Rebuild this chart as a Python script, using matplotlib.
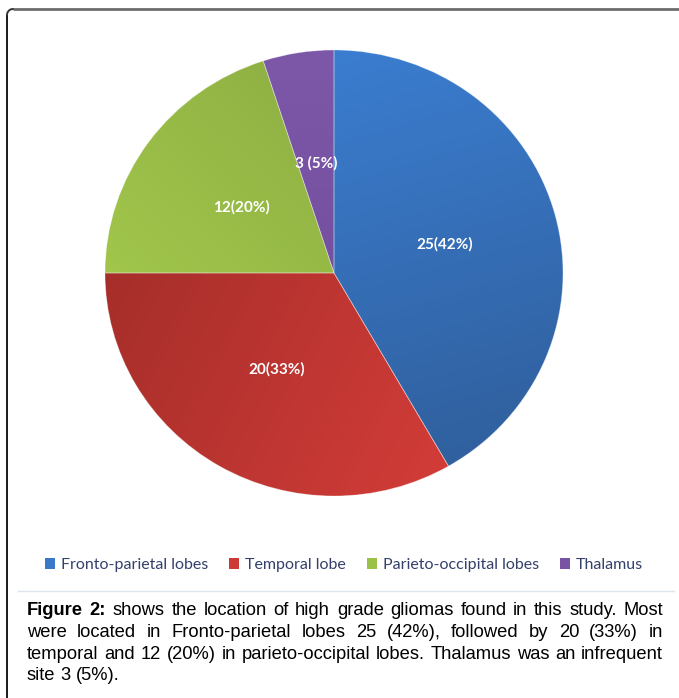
import numpy as np
import matplotlib
matplotlib.use("Agg")
import matplotlib.pyplot as plt
from matplotlib.patches import Patch
from matplotlib.colors import to_rgb

# --- data ---------------------------------------------------------------
sites = ["Fronto-parietal lobes", "Temporal lobe", "Parieto-occipital lobes", "Thalamus"]
counts = [25, 20, 12, 3]
label_sep = ["", "", "", " "]

# slice colours: (start, end) of each slice's shading
shade_start = ["#3b7dd0", "#a62e2a", "#90b244", "#7d57a8"]
shade_end = ["#30609e", "#d23c38", "#a1c64b", "#7550a0"]
shade_dir = [(0.3, -1.0), (1.0, -0.5), (-1.0, -1.0), (0.0, -1.0)]
base_colors = ["#3a78c9", "#cc3a36", "#9bc147", "#7953a4"]

caption_lines = [
    "Figure 2: shows the location of high grade gliomas found in this study. Most",
    "were located in Fronto-parietal lobes 25 (42%), followed by 20 (33%) in",
    "temporal and 12 (20%) in parieto-occipital lobes. Thalamus was an infrequent",
    "site 3 (5%).",
]

W, H = 679, 698
fig = plt.figure(figsize=(W / 100, H / 100), dpi=100)
fig.patch.set_facecolor("white")

# background axes in pixel coordinates for frame and caption
bg = fig.add_axes([0, 0, 1, 1])
bg.set_xlim(0, W)
bg.set_ylim(H, 0)
bg.axis("off")

# frame: left and top edges with a rounded corner
r = 6
t = np.linspace(np.pi, 1.5 * np.pi, 20)
cx, cy = 7 + r, 9 + r
arc_x = cx + r * np.cos(t)
arc_y = cy + r * np.sin(t)
bg.plot([7, 7], [H, cy], color="#1a1a1a", lw=1.4, solid_capstyle="butt")
bg.plot(arc_x, arc_y, color="#333333", lw=1.4)
bg.plot([cx, W], [9, 9], color="#6e6e6e", lw=2.0, solid_capstyle="butt")

# separator above the caption
bg.plot([18, 674], [591, 591], color="#dfe5ef", lw=1.0)

# --- pie ----------------------------------------------------------------
cxp, cyp, rx, ry = 334, 273, 229, 223
pax = fig.add_axes([(cxp - rx) / W, (H - cyp - ry) / H, 2 * rx / W, 2 * ry / H])
total = sum(counts)
pcts = [round(v / total * 100) for v in counts]
labels = [f"{v}{s}({p}%)" for v, s, p in zip(counts, label_sep, pcts)]

wedges, _ = pax.pie(counts, colors=base_colors, startangle=90, counterclock=False,
                    radius=1.0, wedgeprops=dict(linewidth=0))

# shaded fill of each slice, clipped to the slice
n = 400
xs = np.linspace(-1, 1, n)
X, Y = np.meshgrid(xs, xs[::-1])
ang = np.degrees(np.arctan2(Y, X)) % 360
inside = X ** 2 + Y ** 2 <= 1
for w, c0, c1, d in zip(wedges, shade_start, shade_end, shade_dir):
    th1, th2 = w.theta1 % 360, w.theta2 % 360
    if th1 <= th2:
        m = (ang >= th1) & (ang <= th2)
    else:
        m = (ang >= th1) | (ang <= th2)
    m &= inside
    proj = X * d[0] + Y * d[1]
    lo, hi = proj[m].min(), proj[m].max()
    tt = np.clip((proj - lo) / (hi - lo), 0, 1)[..., None]
    img = (1 - tt) * np.array(to_rgb(c0)) + tt * np.array(to_rgb(c1))
    im = pax.imshow(img, extent=(-1, 1, -1, 1), zorder=1.5, interpolation="bilinear")
    im.set_clip_path(w)
    w.set_facecolor("none")
    w.set_edgecolor((1, 1, 1, 0.35))
    w.set_linewidth(0.6)
    w.set_zorder(2)

for w, lab in zip(wedges, labels):
    mid = np.radians((w.theta1 + w.theta2) / 2)
    pax.text(0.5 * np.cos(mid), 0.5 * np.sin(mid), lab, ha="center", va="center",
             color="white", fontsize=11, fontweight="bold", family="Lato", zorder=3)

pax.set_aspect("auto")
pax.set_xlim(-1, 1)
pax.set_ylim(-1, 1)
pax.axis("off")

# --- legend -------------------------------------------------------------
handles = [Patch(facecolor=c, edgecolor="none") for c in base_colors]
fig.legend(handles, sites, loc="center", bbox_to_anchor=(344 / W, 1 - 565 / H),
           ncol=4, frameon=False, prop=dict(family="Lato", size=11.5),
           labelcolor="#34406a", handlelength=0.62, handleheight=0.62,
           handletextpad=0.35, columnspacing=1.35, borderaxespad=0)

# --- caption (justified) ------------------------------------------------
renderer = fig.canvas.get_renderer()
left, right = 27, 663
baselines = [615, 637, 659, 680]

# font size chosen so the third (least stretched) line fills the width
probe = bg.text(0, 0, caption_lines[2], fontsize=12, family="Liberation Sans")
cap_size = 12 * 630 / probe.get_window_extent(renderer).width
probe.remove()

for i, (line, yb) in enumerate(zip(caption_lines, baselines)):
    words = line.split(" ")
    arts = []
    for j, wd in enumerate(words):
        bold = (i == 0 and j < 2)
        arts.append(bg.text(0, yb, wd, ha="left", va="baseline", fontsize=cap_size,
                            family="Liberation Sans",
                            fontweight="bold" if bold else "normal", color="black"))
    widths = [a.get_window_extent(renderer).width for a in arts]
    if i < len(caption_lines) - 1:
        gap = (right - left - sum(widths)) / (len(words) - 1)
    else:
        sp = bg.text(0, 0, "a a", fontsize=cap_size, family="Liberation Sans")
        sp2 = bg.text(0, 0, "aa", fontsize=cap_size, family="Liberation Sans")
        gap = sp.get_window_extent(renderer).width - sp2.get_window_extent(renderer).width
        sp.remove()
        sp2.remove()
    x = left
    for a, wdt in zip(arts, widths):
        a.set_x(x)
        x += wdt + gap

fig.savefig("out.png", dpi=100, facecolor="white")
